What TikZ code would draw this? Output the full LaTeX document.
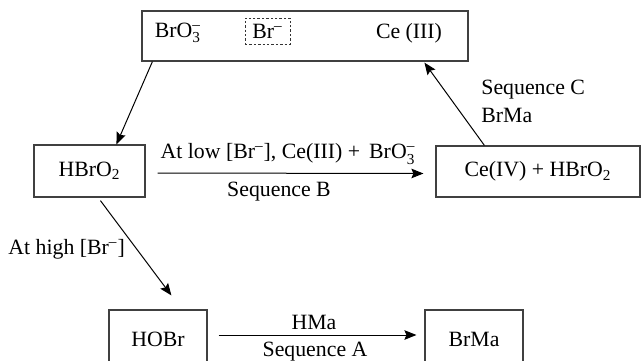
\documentclass[tikz,border=0pt]{standalone}
\usepackage{fontspec}
\usepackage{amsmath}
\setmainfont{Liberation Serif}
\usetikzlibrary{arrows.meta}
\newcommand{\ionsub}[2]{$_{\text{#1}}^{\text{#2}}$}
\newcommand{\ionneg}{\textsuperscript{–}}
\begin{document}
\begin{tikzpicture}[x=0.5pt,y=-0.5pt,
  font=\fontsize{10.9}{13}\selectfont,
  box/.style={draw=black!75, line width=0.6pt, inner sep=0pt},
  conn/.style={line width=0.5pt, -{Stealth[length=6pt,width=4.8pt,inset=1pt]}},
  lbl/.style={inner sep=0pt}]
\useasboundingbox (0,0) rectangle (641,360);
\clip (0,0) rectangle (641,360);
% boxes
\node[box, minimum width=163pt, minimum height=25pt] (top) at (305,36) {};
\node[lbl] (t1) at (178,33) {BrO\ionsub{3}{–}};
\node[draw=black!80, dash pattern=on 1.2pt off 1pt, line width=0.5pt, minimum width=22.5pt, minimum height=13pt, inner sep=0pt] (t2) at (267.5,31) {Br\ionneg};
\node[lbl] (t3) at (409,33) {Ce (III)};
\node[box, minimum width=55.5pt, minimum height=26pt] (hbro2) at (89.5,171) {HBrO\textsubscript{2}};
\node[box, minimum width=102pt, minimum height=25.5pt] (ce4) at (538,171.5) {Ce(IV) + HBrO\textsubscript{2}};
\node[box, minimum width=49pt, minimum height=29pt] (hobr) at (158,339) {HOBr};
\node[box, minimum width=49pt, minimum height=29pt] (brma) at (474,339) {BrMa};
% connectors
\draw[conn] ([xshift=5.5pt]top.south west) -- ([xshift=41.5pt]hbro2.north west);
\draw[conn] ([xshift=6pt,yshift=-1pt]hbro2.east) -- ([xshift=-6pt,yshift=-1pt]ce4.west);
\draw[conn] ([xshift=33.5pt,yshift=-1.5pt]hbro2.south west) -- ([xshift=31.5pt,yshift=7pt]hobr.north west);
\draw[conn] ([xshift=5.5pt,yshift=2pt]hobr.east) -- ([xshift=-4pt,yshift=2pt]brma.west);
\draw[conn] ([xshift=24.5pt]ce4.north west) -- ([xshift=141.5pt,yshift=-0.5pt]top.south west);
% labels
\node[lbl] (lowlbl) at (288,154) {At low [Br\ionneg], Ce(III) + \,BrO\ionsub{3}{–}};
\node[lbl] (seqb) at (279,192) {Sequence B};
\node[lbl, anchor=west] (highlbl) at (8,249) {At high [Br\ionneg]};
\node[lbl] (hma) at (314,322) {HMa};
\node[lbl] (seqa) at (315,352) {Sequence A};
\node[lbl, anchor=west] (seqc) at (481,90) {Sequence C};
\node[lbl, anchor=west] (brmac) at (481,115) {BrMa};
\end{tikzpicture}
\end{document}
